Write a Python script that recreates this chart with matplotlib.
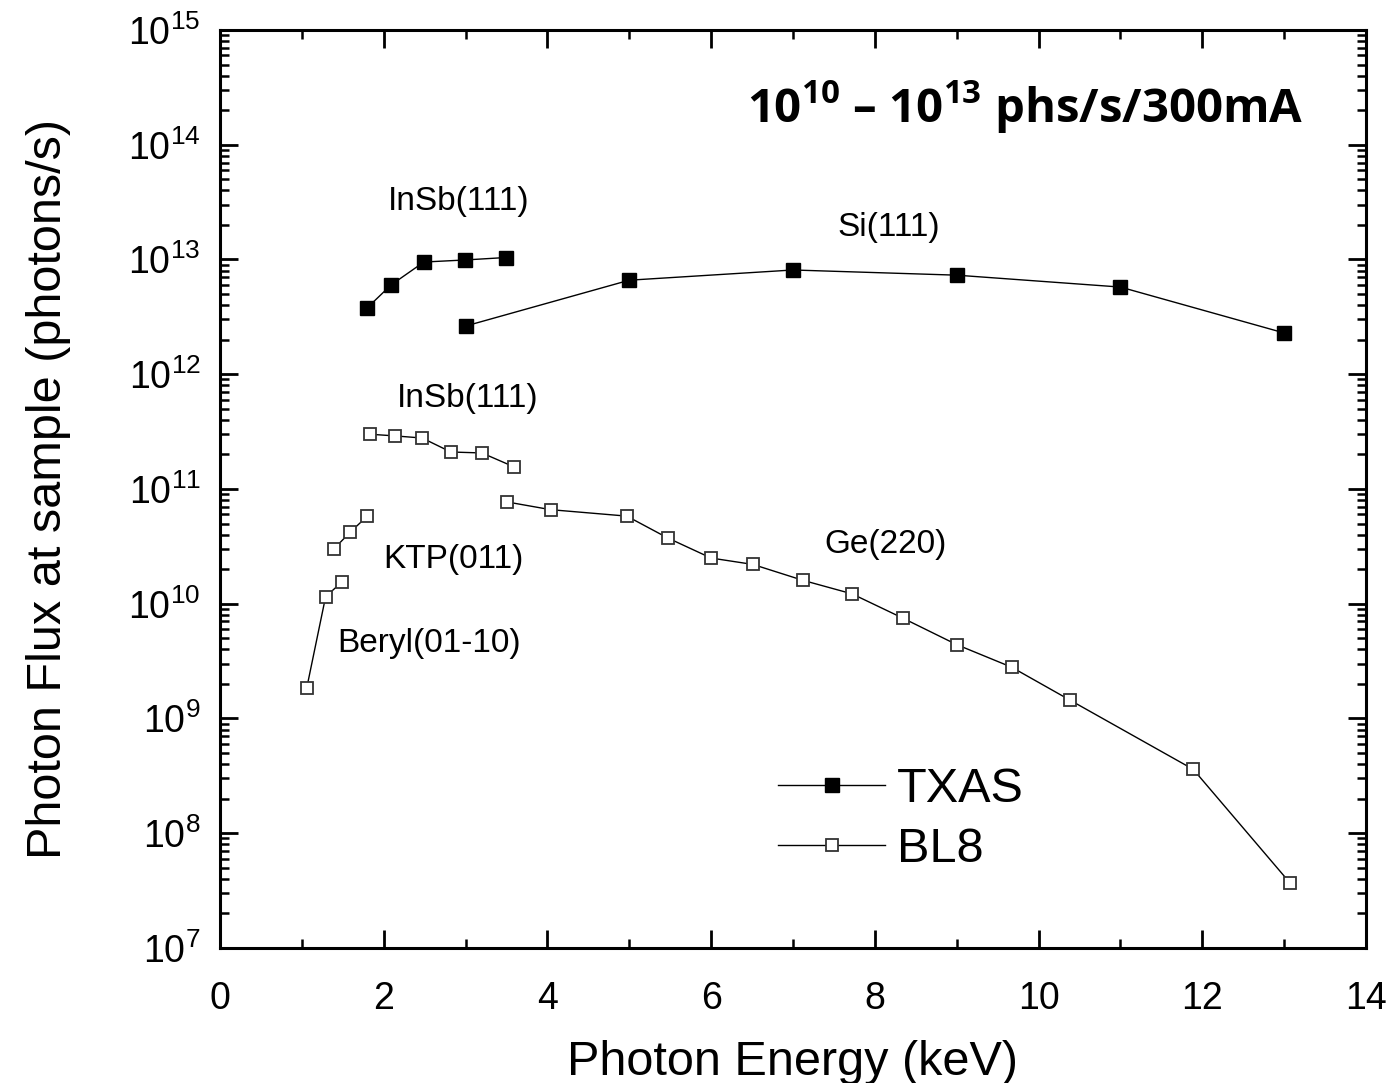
import matplotlib
matplotlib.use("Agg")
from matplotlib import pyplot as plt
from matplotlib.ticker import LogLocator, MultipleLocator, NullFormatter

plt.rcParams['font.family'] = ['Liberation Sans', 'DejaVu Sans']
plt.rcParams['mathtext.fontset'] = 'custom'
plt.rcParams['mathtext.rm'] = 'Liberation Sans'
plt.rcParams['mathtext.bf'] = 'Open Sans:bold'

# TXAS (filled squares)
txas_insb_e = [1.80, 2.09, 2.49, 2.99, 3.49]
txas_insb_f = [3.8e12, 6.0e12, 9.5e12, 9.9e12, 1.04e13]
txas_si_e = [3.0, 5.0, 7.0, 9.0, 11.0, 13.0]
txas_si_f = [2.63e12, 6.6e12, 8.1e12, 7.3e12, 5.75e12, 2.29e12]

# BL8 (open squares)
bl8_insb_e = [1.83, 2.14, 2.47, 2.82, 3.20, 3.59]
bl8_insb_f = [3.0e11, 2.9e11, 2.78e11, 2.1e11, 2.06e11, 1.56e11]
bl8_ktp_e = [1.39, 1.59, 1.80]
bl8_ktp_f = [3.0e10, 4.2e10, 5.8e10]
bl8_beryl_e = [1.06, 1.29, 1.49]
bl8_beryl_f = [1.85e9, 1.15e10, 1.55e10]
bl8_ge_e = [3.51, 4.04, 4.97, 5.47, 6.00, 6.51, 7.12, 7.72, 8.34, 9.00, 9.67, 10.38, 11.89, 13.07]
bl8_ge_f = [7.7e10, 6.6e10, 5.8e10, 3.74e10, 2.5e10, 2.2e10, 1.6e10, 1.22e10,
            7.5e9, 4.4e9, 2.8e9, 1.45e9, 3.6e8, 3.7e7]

crystal_labels = ['InSb(111)', 'Si(111)', 'InSb(111)', 'KTP(011)', 'Beryl(01-10)', 'Ge(220)']
label_pos = [(2.92, 3.2e13), (8.17, 1.9e13), (3.03, 6.1e11), (2.85, 2.45e10), (2.56, 4.5e9), (8.13, 3.3e10)]

fig = plt.figure(figsize=(13.96, 10.83), dpi=100)
ax = fig.add_axes([0.1576, 0.1247, 0.8209, 0.8476])

filled = dict(color='black', lw=1.0, marker='s', ms=9.5, mfc='black', mec='black')
hollow = dict(color='black', lw=1.0, marker='s', ms=9, mfc='white', mec='#333333', mew=1.3)

ax.plot(txas_insb_e, txas_insb_f, label='TXAS', **filled)
ax.plot(txas_si_e, txas_si_f, **filled)
ax.plot(bl8_insb_e, bl8_insb_f, label='BL8', **hollow)
ax.plot(bl8_ktp_e, bl8_ktp_f, **hollow)
ax.plot(bl8_beryl_e, bl8_beryl_f, **hollow)
ax.plot(bl8_ge_e, bl8_ge_f, **hollow)

for txt, (x, y) in zip(crystal_labels, label_pos):
    ax.text(x, y, txt, fontsize=24, ha='center', va='center')

ax.text(0.945, 0.917, r'$\mathbf{10^{10}}$ – $\mathbf{10^{13}}$ phs/s/300mA',
        transform=ax.transAxes, fontsize=34, fontweight='bold', family='Open Sans',
        ha='right', va='center')

ax.set_yscale('log')
ax.set_xlim(0, 14)
ax.set_ylim(1e7, 1e15)
ax.xaxis.set_major_locator(MultipleLocator(2))
ax.xaxis.set_minor_locator(MultipleLocator(1))
ax.yaxis.set_major_locator(LogLocator(base=10, numticks=20))
ax.yaxis.set_minor_locator(LogLocator(base=10, subs=range(2, 10), numticks=20))
ax.yaxis.set_minor_formatter(NullFormatter())

ax.tick_params(which='both', direction='in', top=True, right=True, labelsize=27)
ax.tick_params(axis='x', pad=24)
ax.tick_params(axis='y', pad=14)
ax.tick_params(which='major', length=13, width=2)
ax.tick_params(which='minor', length=6.5, width=1.8)
for s in ax.spines.values():
    s.set_linewidth(2.2)

ax.set_xlabel('Photon Energy (keV)', fontsize=35, labelpad=16)
ax.set_ylabel('Photon Flux at sample (photons/s)', fontsize=35, labelpad=41)

ax.legend(loc='upper left', bbox_to_anchor=(0.47, 0.218), frameon=False, fontsize=35,
          numpoints=1, handlelength=2.2, handletextpad=0.25, labelspacing=0.3,
          borderaxespad=0)

fig.savefig('out.png', dpi=100)
